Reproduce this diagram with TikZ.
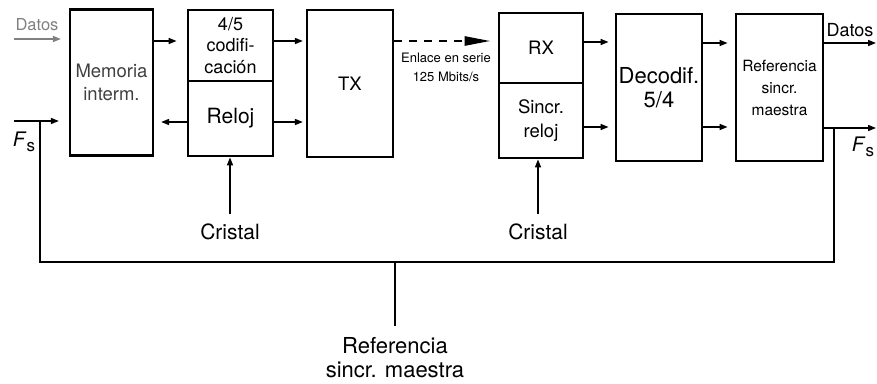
\documentclass[tikz,border=0pt]{standalone}
\usepackage{fontspec}
\setmainfont{TeX Gyre Heros}
\usetikzlibrary{arrows.meta,calc}
\newcommand{\fsz}[2]{\fontsize{#1}{#2}\selectfont}
\newcommand{\FsLabel}{\textit{F}\raisebox{-5pt}{\fsz{17}{17}s}}
\begin{document}
\begin{tikzpicture}[x=1pt,y=-1pt,
  blk/.style={draw,line width=2.2pt,inner sep=0pt,align=center},
  thk/.style={line width=2.8pt},
  txt/.style={inner sep=0pt,align=center},
  arr/.style={line width=1.5pt,-{Triangle[length=8pt,width=6pt]}},
  lnk/.style={line width=2.6pt,dash pattern=on 8pt off 7pt,-{Triangle[length=26pt,width=9pt]}},
  fb/.style={line width=1.4pt}]
\useasboundingbox (0,0) rectangle (877,383);

% blocks
\node[blk,minimum width=83pt,minimum height=146pt,text=black!75,font=\fsz{18.5}{23}] (mem) at (111.5,82.5)
  {Memoria\\interm.};
\node[blk,thk,minimum width=85pt,minimum height=71pt,font=\fsz{18}{21.5}] (codt) at (230.5,45.5)
  {4/5\\codifi-\\cación};
\node[blk,thk,minimum width=85pt,minimum height=75pt,font=\fsz{21}{24}] (codb) at (230.5,118.5)
  {Reloj};
\node[blk,minimum width=86pt,minimum height=147pt,font=\fsz{18.5}{22}] (tx) at (350,83.5)
  {\raisebox{-2pt}{TX}};
\node[blk,thk,minimum width=84pt,minimum height=70pt,font=\fsz{18.5}{22}] (rxt) at (541,48)
  {\raisebox{-3pt}{RX}};
\node[blk,thk,minimum width=84pt,minimum height=75pt,font=\fsz{18.5}{24}] (rxb) at (541,120.5)
  {Sincr.\\reloj};
\node[blk,thk,minimum width=86pt,minimum height=147pt,font=\fsz{22}{24}] (dec) at (659,87.5)
  {Decodif.\\5/4};
\node[blk,thk,minimum width=87pt,minimum height=147pt,font=\fsz{15.5}{22}] (ref) at (779.5,87.5)
  {Referencia\\sincr.\\maestra};

% text labels
\node[txt,text=black!50,font=\fsz{16.5}{18}] (dinl) at (37,25) {Datos};
\node[txt,font=\fsz{18}{20}] (doutl) at (850,30) {Datos};
\node[txt,font=\fsz{20}{20}] (fsl) at (24,142) {\FsLabel};
\node[txt,font=\fsz{20}{20}] (fsr) at (863,147) {\FsLabel};
\node[txt,font=\fsz{13}{18.5}] (lnkl) at (446,67.5) {Enlace en serie\\125 Mbits/s};
\node[txt,font=\fsz{21}{24}] (cr1) at (230,232) {Cristal};
\node[txt,font=\fsz{21}{24}] (cr2) at (538,232) {Cristal};
\node[txt,anchor=north,font=\fsz{22}{24}] (refm) at (395,337) {Referencia\\sincr. maestra};

% row coordinates
\coordinate (din) at (14,39);
\coordinate (fin) at (14,121);
\coordinate (fbl) at (40,121);
\coordinate (ya) at (0,41);
\coordinate (yb) at (0,122);
\coordinate (yc) at (0,42);
\coordinate (yd) at (0,127);
\coordinate (ye) at (0,43);
\coordinate (dout) at (877,43);
\coordinate (fout) at (877,128);
\coordinate (fbr) at (834,128);
\coordinate (ybot) at (0,262);

% connectors
\draw[arr,draw=black!50,fill=black!50,shorten >=8pt] (din) -- (din -| mem.west);
\draw[arr,shorten >=10pt] (fin) -- (fin -| mem.west);
\draw[arr,shorten >=10pt] (mem.east |- ya) -- (codt.west |- ya);
\draw[arr,shorten >=7pt] (codb.west |- yb) -- (mem.east |- yb);
\draw[arr,shorten >=3pt] (codt.east |- ya) -- (tx.west |- ya);
\draw[arr,shorten >=3pt] (codb.east |- yb) -- (tx.west |- yb);
\draw[lnk,shorten >=7pt] (tx.east |- ya) -- (rxt.west |- ya);
\draw[arr,shorten >=6pt] (rxt.east |- yc) -- (dec.west |- yc);
\draw[arr,shorten >=6pt] (rxb.east |- yd) -- (dec.west |- yd);
\draw[arr,shorten >=7pt] (dec.east |- ye) -- (ref.west |- ye);
\draw[arr,shorten >=7pt] (dec.east |- yd) -- (ref.west |- yd);
\draw[arr,shorten >=1pt] (ref.east |- dout) -- (dout);
\draw[arr,shorten >=1pt] (ref.east |- fout) -- (fout);

% crystals
\draw[arr,shorten <=10pt] (cr1.north) -- (cr1.north |- codb.south);
\draw[arr,shorten <=10pt] (cr2.north) -- (cr2.north |- rxb.south);

% feedback loop
\draw[fb] (fbr) -- (fbr |- ybot) -- (fbl |- ybot) -- (fbl);
\draw[fb,shorten <=11pt] (refm.north) -- (refm.north |- ybot);
\end{tikzpicture}
\end{document}
